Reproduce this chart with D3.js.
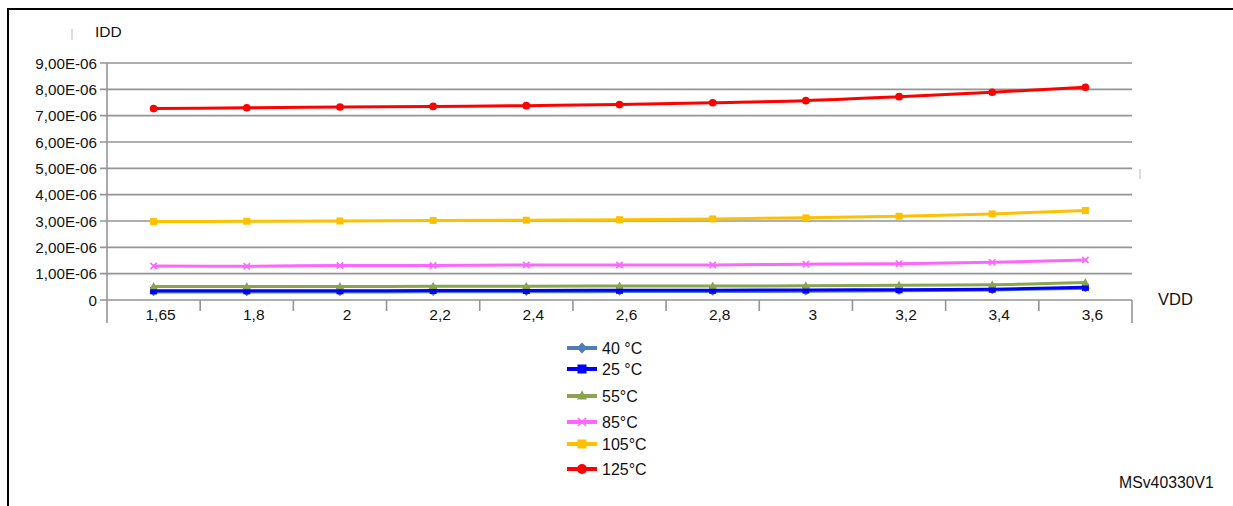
<!DOCTYPE html>
<html><head><meta charset="utf-8">
<script src="https://cdn.jsdelivr.net/npm/d3@7"></script>
<style>body{margin:0;background:#fff}svg{display:block}text{font-family:"Liberation Sans",Arial,sans-serif;fill:#111}</style>
</head><body><svg id="c" width="1233" height="506"></svg>
<script>
const categories = ["1,65","1,8","2","2,2","2,4","2,6","2,8","3","3,2","3,4","3,6"];
const seriesNames = ["40 °C","25 °C","55°C","85°C","105°C","125°C"];
const s40  = [0.30,0.30,0.30,0.31,0.31,0.32,0.32,0.33,0.35,0.38,0.45];
const s25  = [0.35,0.35,0.35,0.36,0.36,0.37,0.37,0.38,0.39,0.41,0.48];
const s55  = [0.51,0.51,0.51,0.52,0.52,0.53,0.53,0.54,0.56,0.58,0.66];
const s85  = [1.29,1.28,1.31,1.31,1.33,1.33,1.33,1.36,1.38,1.43,1.52];
const s105 = [2.98,2.99,3.00,3.02,3.03,3.05,3.08,3.12,3.18,3.27,3.40];
const s125 = [7.27,7.30,7.33,7.35,7.38,7.42,7.49,7.57,7.72,7.89,8.08];
const yTicks = [0,1e-6,2e-6,3e-6,4e-6,5e-6,6e-6,7e-6,8e-6,9e-6];
const yTickLabels = ["0","1,00E-06","2,00E-06","3,00E-06","4,00E-06","5,00E-06","6,00E-06","7,00E-06","8,00E-06","9,00E-06"];
const colors = ["#4F7DB5","#0000FF","#89A54E","#FF66FF","#FFC000","#FF0000"];
const markers = ["diamond","square","triangle","x","square","circle"];
const legendY = [348,369,396,422,444,469];
const seriesVals = [s40,s25,s55,s85,s105,s125];

const svg = d3.select("#c");
const x = d3.scaleBand().domain(categories).range([107,1132]).padding(0);
const y = d3.scaleLinear().domain([0,9e-6]).range([300,63]);

// frame
svg.append("line").attr("x1",7).attr("x2",1233).attr("y1",9).attr("y2",9).attr("stroke","#000").attr("stroke-width",2);
svg.append("line").attr("x1",8).attr("x2",8).attr("y1",8).attr("y2",506).attr("stroke","#000").attr("stroke-width",2);
// tiny artifacts
svg.append("line").attr("x1",72).attr("x2",72).attr("y1",29).attr("y2",40).attr("stroke","#bbb").attr("stroke-width",1);
svg.append("line").attr("x1",1140).attr("x2",1140).attr("y1",169).attr("y2",179).attr("stroke","#bbb").attr("stroke-width",1);

// gridlines
const grid = svg.append("g");
yTicks.forEach(t=>{
  grid.append("line").attr("x1",100).attr("x2",1132).attr("y1",y(t)).attr("y2",y(t))
    .attr("stroke","#959595").attr("stroke-width",1.6);
});
// y axis labels
const yAxis = d3.axisLeft(y).tickValues(yTicks).tickSize(0).tickPadding(10)
  .tickFormat((d,i)=>yTickLabels[i]);
const gy = svg.append("g").attr("transform","translate(107,0)").call(yAxis);
gy.select(".domain").remove();
gy.selectAll("text").style("font-size","15.2px").attr("dy","0.35em").attr("x",-10);
svg.append("line").attr("x1",107).attr("x2",107).attr("y1",63).attr("y2",323).attr("stroke","#959595").attr("stroke-width",1.6);

// x axis
const bounds = categories.map(c=>x(c)).concat([x.range()[1]]);
bounds.forEach((b,i)=>{
  if(i===0) return;
  const last = i===bounds.length-1;
  svg.append("line").attr("x1",b).attr("x2",b).attr("y1",300).attr("y2",last?323:311)
    .attr("stroke","#959595").attr("stroke-width",1.6);
});
svg.append("g").selectAll("text").data(categories).join("text")
  .attr("x",d=>x(d)+x.bandwidth()/2+7).attr("y",320).attr("text-anchor","middle")
  .style("font-size","15.5px").text(d=>d);

svg.append("text").attr("x",95).attr("y",37).style("font-size","15.5px").text("IDD");
svg.append("text").attr("x",1158).attr("y",305).style("font-size","16.5px").text("VDD");
svg.append("text").attr("x",1119).attr("y",488).style("font-size","15.8px").text("MSv40330V1");

function drawMarker(g, type, cx, cy, color, s){
  if(type==="circle") g.append("circle").attr("cx",cx).attr("cy",cy).attr("r",s*0.55).attr("fill",color);
  else if(type==="square") g.append("rect").attr("x",cx-s/2).attr("y",cy-s/2).attr("width",s).attr("height",s).attr("fill",color);
  else if(type==="diamond") g.append("path").attr("d",`M${cx},${cy-s*0.6}L${cx+s*0.6},${cy}L${cx},${cy+s*0.6}L${cx-s*0.6},${cy}Z`).attr("fill",color);
  else if(type==="triangle") g.append("path").attr("d",`M${cx},${cy-s*0.65}L${cx+s*0.55},${cy+s*0.4}L${cx-s*0.55},${cy+s*0.4}Z`).attr("fill",color);
  else if(type==="x"){ const h=s*0.45;
    g.append("path").attr("d",`M${cx-h},${cy-h}L${cx+h},${cy+h}M${cx-h},${cy+h}L${cx+h},${cy-h}`).attr("stroke",color).attr("stroke-width",1.6);}
}

const line = d3.line().x((d,i)=>x(categories[i])+x.bandwidth()/2).y(d=>y(d*1e-6)).curve(d3.curveMonotoneX);
seriesVals.forEach((vals,si)=>{
  const g = svg.append("g");
  g.append("path").datum(vals).attr("d",line).attr("fill","none").attr("stroke",colors[si]).attr("stroke-width",3);
  vals.forEach((v,i)=>drawMarker(g, markers[si], x(categories[i])+x.bandwidth()/2, y(v*1e-6), colors[si], 7));
});

// legend
const lg = svg.append("g");
seriesNames.forEach((n,i)=>{
  const yy = legendY[i];
  lg.append("line").attr("x1",567).attr("x2",597).attr("y1",yy).attr("y2",yy).attr("stroke",colors[i]).attr("stroke-width",4);
  drawMarker(lg, markers[i], 582, yy, colors[i], 9);
  lg.append("text").attr("x",602).attr("y",yy+5.5).style("font-size","16px").text(n);
});
</script></body></html>
